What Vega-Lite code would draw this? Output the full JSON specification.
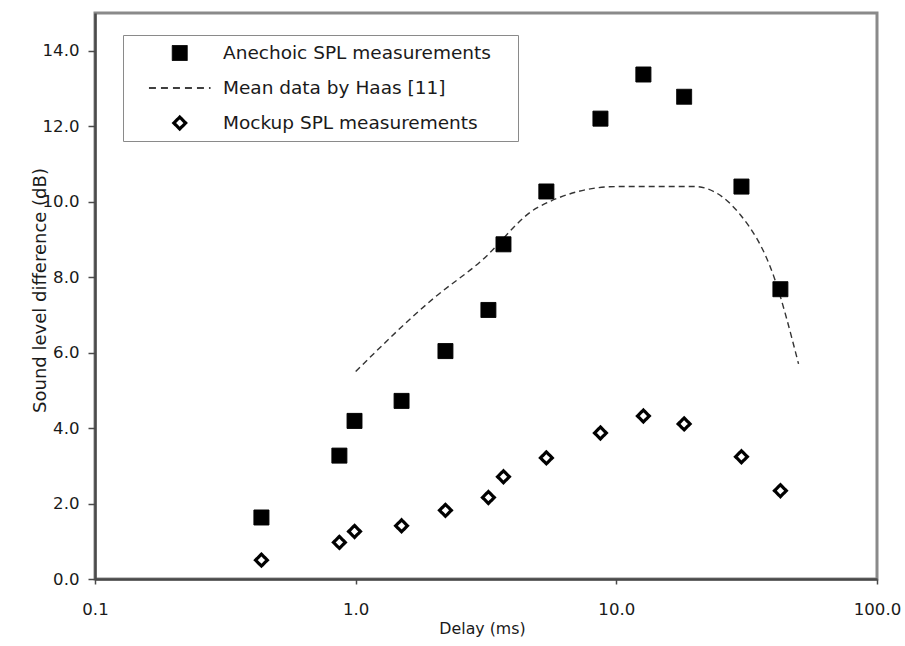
{
  "$schema": "https://vega.github.io/schema/vega-lite/v6.json",
  "width": 782,
  "height": 566,
  "autosize": {"type": "none"},
  "padding": {"left": 95, "top": 13, "right": 28, "bottom": 67},
  "background": "white",
  "config": {
    "font": "DejaVu Sans",
    "view": {"stroke": "#8a8a8a", "strokeWidth": 3},
    "axis": {
      "grid": false,
      "domainColor": "#4a4a4a",
      "domainWidth": 2.5,
      "tickColor": "#4a4a4a",
      "tickWidth": 1.5,
      "labelFont": "DejaVu Sans",
      "labelFontSize": 16.6,
      "labelColor": "#1a1a1a",
      "labelFlush": false,
      "labelOverlap": false,
      "titleFont": "DejaVu Sans",
      "titleFontSize": 15.8,
      "titleFontWeight": "normal",
      "titleColor": "#1a1a1a"
    },
    "legend": {
      "orient": "none",
      "legendX": 28,
      "legendY": 22,
      "padding": 7.5,
      "clipHeight": 21,
      "strokeColor": "#8a8a8a",
      "fillColor": "white",
      "symbolOffset": 40,
      "labelOffset": 34,
      "labelLimit": 600,
      "rowPadding": 14,
      "labelFont": "DejaVu Sans",
      "labelFontSize": 18.5,
      "labelColor": "#1a1a1a",
      "titleOrient": "right",
      "titlePadding": 20,
      "titleFontSize": 10,
      "titleFontWeight": "normal"
    }
  },
  "data": {
    "values": [
      {"series": "Anechoic SPL measurements", "delay": 0.435, "level": 1.63},
      {"series": "Anechoic SPL measurements", "delay": 0.866, "level": 3.27},
      {"series": "Anechoic SPL measurements", "delay": 0.99, "level": 4.19},
      {"series": "Anechoic SPL measurements", "delay": 1.5, "level": 4.72},
      {"series": "Anechoic SPL measurements", "delay": 2.21, "level": 6.04},
      {"series": "Anechoic SPL measurements", "delay": 3.23, "level": 7.13},
      {"series": "Anechoic SPL measurements", "delay": 3.69, "level": 8.87},
      {"series": "Anechoic SPL measurements", "delay": 5.39, "level": 10.27},
      {"series": "Anechoic SPL measurements", "delay": 8.69, "level": 12.2},
      {"series": "Anechoic SPL measurements", "delay": 12.7, "level": 13.37},
      {"series": "Anechoic SPL measurements", "delay": 18.2, "level": 12.78},
      {"series": "Anechoic SPL measurements", "delay": 30.2, "level": 10.4},
      {"series": "Anechoic SPL measurements", "delay": 42.6, "level": 7.68},
      {"series": "Mockup SPL measurements", "delay": 0.435, "level": 0.5},
      {"series": "Mockup SPL measurements", "delay": 0.866, "level": 0.97},
      {"series": "Mockup SPL measurements", "delay": 0.99, "level": 1.26},
      {"series": "Mockup SPL measurements", "delay": 1.5, "level": 1.41},
      {"series": "Mockup SPL measurements", "delay": 2.21, "level": 1.82},
      {"series": "Mockup SPL measurements", "delay": 3.23, "level": 2.16},
      {"series": "Mockup SPL measurements", "delay": 3.69, "level": 2.71},
      {"series": "Mockup SPL measurements", "delay": 5.39, "level": 3.21},
      {"series": "Mockup SPL measurements", "delay": 8.69, "level": 3.87},
      {"series": "Mockup SPL measurements", "delay": 12.7, "level": 4.32},
      {"series": "Mockup SPL measurements", "delay": 18.2, "level": 4.11},
      {"series": "Mockup SPL measurements", "delay": 30.2, "level": 3.24},
      {"series": "Mockup SPL measurements", "delay": 42.6, "level": 2.34},
      {"series": "Mean data by Haas [11]", "delay": 1, "level": 5.5},
      {"series": "Mean data by Haas [11]", "delay": 2, "level": 7.45},
      {"series": "Mean data by Haas [11]", "delay": 3, "level": 8.4},
      {"series": "Mean data by Haas [11]", "delay": 5, "level": 9.85},
      {"series": "Mean data by Haas [11]", "delay": 10, "level": 10.4},
      {"series": "Mean data by Haas [11]", "delay": 20, "level": 10.4},
      {"series": "Mean data by Haas [11]", "delay": 30, "level": 9.64},
      {"series": "Mean data by Haas [11]", "delay": 40, "level": 8.06},
      {"series": "Mean data by Haas [11]", "delay": 50, "level": 5.7}
    ]
  },
  "encoding": {
    "x": {
      "field": "delay",
      "type": "quantitative",
      "scale": {"type": "log", "domain": [0.1, 100]},
      "axis": {
        "values": [0.1, 1, 10, 100],
        "format": ".1f",
        "title": "Delay (ms)",
        "tickSize": 5,
        "labelPadding": 17,
        "titleX": 387,
        "titleY": 54,
        "titleBaseline": "alphabetic"
      }
    },
    "y": {
      "field": "level",
      "type": "quantitative",
      "scale": {"domain": [0, 15]},
      "axis": {
        "values": [0, 2, 4, 6, 8, 10, 12, 14],
        "format": ".1f",
        "title": "Sound level difference (dB)",
        "titleFontSize": 18,
        "tickSize": 7,
        "labelPadding": 9,
        "titleX": -50,
        "titleY": 277,
        "titleBaseline": "alphabetic"
      }
    }
  },
  "layer": [
    {
      "transform": [{"filter": "datum.series === 'Mean data by Haas [11]'"}],
      "mark": {"type": "line", "color": "#333333", "strokeWidth": 1.4, "strokeDash": [6, 4], "interpolate": "monotone"},
      "encoding": {}
    },
    {
      "transform": [{"filter": "datum.series !== 'Mean data by Haas [11]'"}],
      "mark": {"type": "point", "stroke": "black", "opacity": 1},
      "encoding": {
        "fill": {
          "field": "series", "type": "nominal",
          "scale": {"domain": ["Anechoic SPL measurements", "Mean data by Haas [11]", "Mockup SPL measurements"], "range": ["black", "transparent", "white"]},
          "legend": {"title": " "}
        },
        "strokeWidth": {
          "field": "series", "type": "nominal",
          "scale": {"type": "ordinal", "domain": ["Anechoic SPL measurements", "Mean data by Haas [11]", "Mockup SPL measurements"], "range": [1, 1.3, 3.2]},
          "legend": {"title": " "}
        },
        "strokeDash": {
          "field": "series", "type": "nominal",
          "scale": {"domain": ["Anechoic SPL measurements", "Mean data by Haas [11]", "Mockup SPL measurements"], "range": [[1, 0], [7, 5], [1, 0]]},
          "legend": {"title": " "}
        },
        "size": {
          "field": "series", "type": "nominal",
          "scale": {"type": "ordinal", "domain": ["Anechoic SPL measurements", "Mean data by Haas [11]", "Mockup SPL measurements"], "range": [225, 196, 140]},
          "legend": {"title": " "}
        },
        "shape": {
          "field": "series", "type": "nominal",
          "scale": {"domain": ["Anechoic SPL measurements", "Mean data by Haas [11]", "Mockup SPL measurements"], "range": ["square", "M-4.4,0H4.4", "diamond"]},
          "legend": {"title": " "}
        }
      }
    }
  ]
}
